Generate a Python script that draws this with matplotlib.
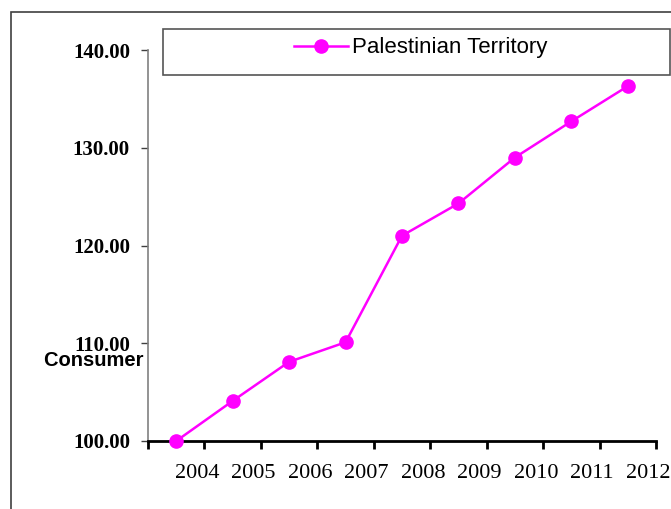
import matplotlib
matplotlib.use("Agg")
import matplotlib.pyplot as plt
from matplotlib.patches import Rectangle

years = ["2004", "2005", "2006", "2007", "2008", "2009", "2010", "2011", "2012"]
values = [100.0, 104.1, 108.1, 110.1, 121.0, 124.3, 129.0, 132.7, 136.3]
yticks = [100, 110, 120, 130, 140]
series_name = "Palestinian Territory"

W, H = 671, 509
fig = plt.figure(figsize=(W / 100, H / 100), dpi=100)
fig.patch.set_facecolor("white")

# outer frame (extends past right/bottom edge)
fig.patches.append(Rectangle((11 / W, -0.1), 1.2, 1.1 - 12 / H,
                             transform=fig.transFigure, fill=False,
                             edgecolor="#404040", linewidth=1.2, zorder=-5))
# legend box
fig.patches.append(Rectangle((163 / W, 1 - 75 / H), 507 / W, 46 / H,
                             transform=fig.transFigure, fill=False,
                             edgecolor="#555555", linewidth=1.2, zorder=5))

ax = fig.add_axes([148 / W, (H - 441) / H, (656 - 148) / W, (441 - 50) / H])
ax.set_facecolor("white")

x = [i + 0.5 for i in range(len(values))]
ax.plot(x, values, color="#FF00FF", linewidth=1.8, marker="o",
        markersize=9.5, label=series_name, clip_on=False, zorder=5)

ax.set_xlim(0, len(values))
ax.set_ylim(100, 140)
ax.set_yticks(yticks)
ax.set_yticklabels([f"{v:.2f}" for v in yticks], fontfamily="Liberation Serif",
                   fontweight="bold", fontsize=15)
ax.set_xticks(range(len(values) + 1))
ax.set_xticklabels([""] * (len(values) + 1))
for i, lab in enumerate(years):
    ax.text(i + 1 - 0.13, -0.082, lab, transform=ax.get_xaxis_transform(),
            ha="center", va="center", fontfamily="Liberation Serif",
            fontsize=16)

for s in ["top", "right"]:
    ax.spines[s].set_visible(False)
ax.spines["left"].set_color("#808080")
ax.spines["left"].set_linewidth(1.2)
ax.spines["bottom"].set_color("black")
ax.spines["bottom"].set_linewidth(2)
ax.tick_params(axis="y", direction="out", length=5, width=1, color="#404040", pad=8)
ax.tick_params(axis="x", direction="out", length=6, width=2, color="black")

# y-axis title partially hidden behind plot area
fig.text(44 / W, 1 - 360 / H, "Consumer Price Index", fontfamily="Liberation Sans",
         fontweight="bold", fontsize=14.5, ha="left", va="center", zorder=-1)

leg = fig.legend(loc="center", bbox_to_anchor=(421 / W, 1 - 48 / H),
                 frameon=False, handlelength=2.4, handletextpad=0.2,
                 prop={"family": "Liberation Sans", "size": 16})

fig.savefig("out.png", dpi=100)
